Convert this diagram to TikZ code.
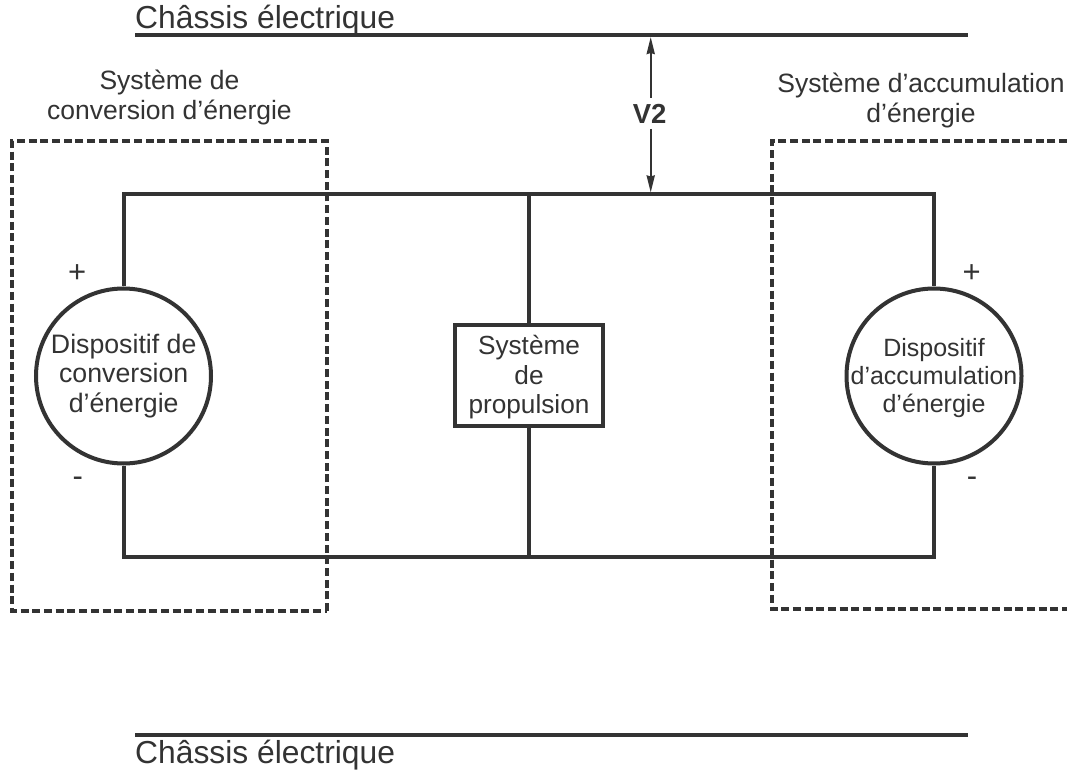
\documentclass[tikz,border=0pt]{standalone}
\usepackage{fontspec}
\setmainfont{Liberation Sans}
\usetikzlibrary{arrows.meta}
\definecolor{ink}{HTML}{333333}
\newcommand{\fsz}[2]{\fontsize{#1pt}{#2pt}\selectfont}
\tikzset{
  x=1pt,y=-1pt,
  wire/.style={draw=ink,line width=4pt},
  rail/.style={draw=ink,line width=4pt},
  dashbox/.style={draw=ink,line width=3.6pt,dash pattern=on 8pt off 3.7pt},
  lbl/.style={text=ink,font=\fsz{26.5}{30},align=center,inner sep=0pt,anchor=base},
  source/.style={circle,draw=ink,line width=4pt,minimum size=175pt,inner sep=0pt},
  propbox/.style={rectangle,draw=ink,line width=4pt,minimum width=148.5pt,minimum height=101.5pt,inner sep=0pt},
  sign/.style={text=ink,font=\fsz{31}{31},inner sep=0pt},
  dim/.style={draw=ink,line width=2.4pt,-{Stealth[length=17pt,width=8pt,inset=1pt]}}
}
\begin{document}
\begin{tikzpicture}
\useasboundingbox (0,0) rectangle (1067,775);
\fill[white] (0,0) rectangle (1067,775);
% rails
\coordinate (railTopL) at (135,35);
\coordinate (railTopR) at (968,35);
\coordinate (railBotL) at (135,735);
\coordinate (railBotR) at (968,735);
\draw[rail] (railTopL) -- (railTopR);
\draw[rail] (railBotL) -- (railBotR);
\node[lbl,font=\fsz{31.8}{32},anchor=base west] (chTop) at (135,29) {Châssis électrique};
\node[lbl,font=\fsz{31.8}{32},anchor=base west] (chBot) at (135,763) {Châssis électrique};
% dashed system boxes
\draw[dashbox] (327,611) -- (327,141) -- (12,141) -- (12,611) -- cycle;
\draw[dashbox] (1067,141) -- (772,141) -- (772,609) -- (1067,609);
% elements
\node[source] (conv) at (123.5,376) {};
\node[source] (acc) at (934,376) {};
\node[propbox] (prop) at (529,375.5) {};
\node[lbl,font=\fsz{26.7}{29.5}] (convT) at (123.7,412) {Dispositif de\\conversion\\d’énergie};
\node[lbl,font=\fsz{25}{28}] (accT) at (934,412) {Dispositif\\d’accumulation\\d’énergie};
\node[lbl,font=\fsz{26.2}{29.5}] (propT) at (529,413.5) {Système\\de\\propulsion};
% circuit
\coordinate (tl) at (123.5,194);
\coordinate (tr) at (934,194);
\coordinate (bl) at (123.5,557);
\coordinate (br) at (934,557);
\coordinate (tm) at (529,194);
\coordinate (bm) at (529,557);
\coordinate (busV) at (650.7,192.5);
\coordinate (railV) at (650.7,37);
\coordinate (v2up) at (650.7,98);
\coordinate (v2dn) at (650.7,129);
\draw[wire,line join=miter] (conv.north) -- (tl) -- (tr) -- (acc.north);
\draw[wire,line join=miter] (conv.south) -- (bl) -- (br) -- (acc.south);
\draw[wire] (tm) -- (prop.north);
\draw[wire] (prop.south) -- (bm);
% V2
\node[lbl,font=\fsz{27.5}{30}\bfseries] (v2) at (649.7,124) {V2};
\draw[dim] (v2up) -- (railV);
\draw[dim] (v2dn) -- (busV);
% labels
\node[lbl] (lconv) at (169.5,120) {Système de\\conversion d’énergie};
\node[lbl] (lacc) at (921,122.7) {Système d’accumulation\\d’énergie};
\node[sign] (pl) at (77.3,274) {+};
\node[sign] (ml) at (77.7,481.7) {-};
\node[sign] (pr) at (971.7,274) {+};
\node[sign] (mr) at (972,481.7) {-};
\end{tikzpicture}
\end{document}
